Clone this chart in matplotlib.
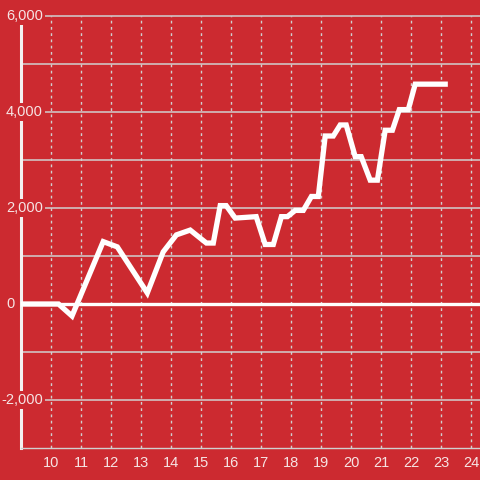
import matplotlib
matplotlib.use('Agg')
import matplotlib.pyplot as plt

# Data
x = [9.0, 10.25, 10.70, 11.74, 12.21, 13.21, 13.74, 14.18, 14.64, 15.18, 15.41,
     15.64, 15.84, 16.14, 16.84, 17.14, 17.41, 17.68, 17.88, 18.14, 18.41,
     18.68, 18.91, 19.14, 19.41, 19.64, 19.84, 20.14, 20.34, 20.64, 20.88,
     21.14, 21.38, 21.61, 21.91, 22.14, 23.14]
y = [0, 0, -250, 1300, 1190, 230, 1085, 1440, 1540, 1270, 1270,
     2050, 2050, 1790, 1820, 1240, 1240, 1820, 1820, 1950, 1950,
     2240, 2240, 3500, 3500, 3730, 3730, 3070, 3070, 2580, 2580,
     3620, 3620, 4050, 4050, 4580, 4580]

xticks = list(range(10, 25))
yticks = [-2000, 0, 2000, 4000, 6000]
ylabels = ['-2,000', '0', '2,000', '4,000', '6,000']

bg = '#cc2a30'
txt = '#f6e4e4'
grid = '#d0d0d0'

fig = plt.figure(figsize=(4.8, 4.8), dpi=100, facecolor=bg)
ax = fig.add_axes([21 / 480, 32 / 480, 459 / 480, 432 / 480])
ax.set_facecolor(bg)
ax.set_xlim(9, 24.3)
ax.set_ylim(-3000, 6000)

# grid
for v in range(-3000, 6001, 1000):
    if v == 0 or v == -3000:
        continue
    ax.axhline(v, color=grid, lw=1.1, zorder=1, clip_on=False)
for v in xticks:
    ax.axvline(v, color=grid, lw=1.0, ls=(0, (2, 2.5)), zorder=1)
ax.axhline(0, color='white', lw=2.4, zorder=2)

ax.plot(x, y, color='white', lw=3.8, solid_joinstyle='miter', zorder=3)

for s in ['top', 'right']:
    ax.spines[s].set_visible(False)
ax.spines['left'].set_color('#f4f0f0')
ax.spines['left'].set_linewidth(2.2)
ax.spines['bottom'].set_color(grid)
ax.spines['bottom'].set_linewidth(1.0)

ax.set_xticks(xticks)
ax.set_xticklabels([str(t) for t in xticks])
ax.tick_params(axis='x', length=0, pad=6, labelsize=10.5, labelcolor=txt)
ax.set_yticks([])

# y labels sit over the left edge of the plot with a red box behind them
ytr = ax.get_yaxis_transform()
for v, lab in zip(yticks, ylabels):
    xpos = -0.013 if v == 0 else 22 / 459
    ax.text(xpos, v, lab, transform=ytr, ha='right', va='center',
            fontsize=10.5, color=txt, zorder=5,
            bbox=dict(boxstyle='square,pad=0.12', fc=bg, ec='none') if v != 0 else None)

plt.rcParams['font.family'] = ['Liberation Sans', 'DejaVu Sans']
for t in ax.get_xticklabels() + ax.texts:
    t.set_family(['Liberation Sans', 'DejaVu Sans'])

fig.savefig('out.png', dpi=100, facecolor=bg)
